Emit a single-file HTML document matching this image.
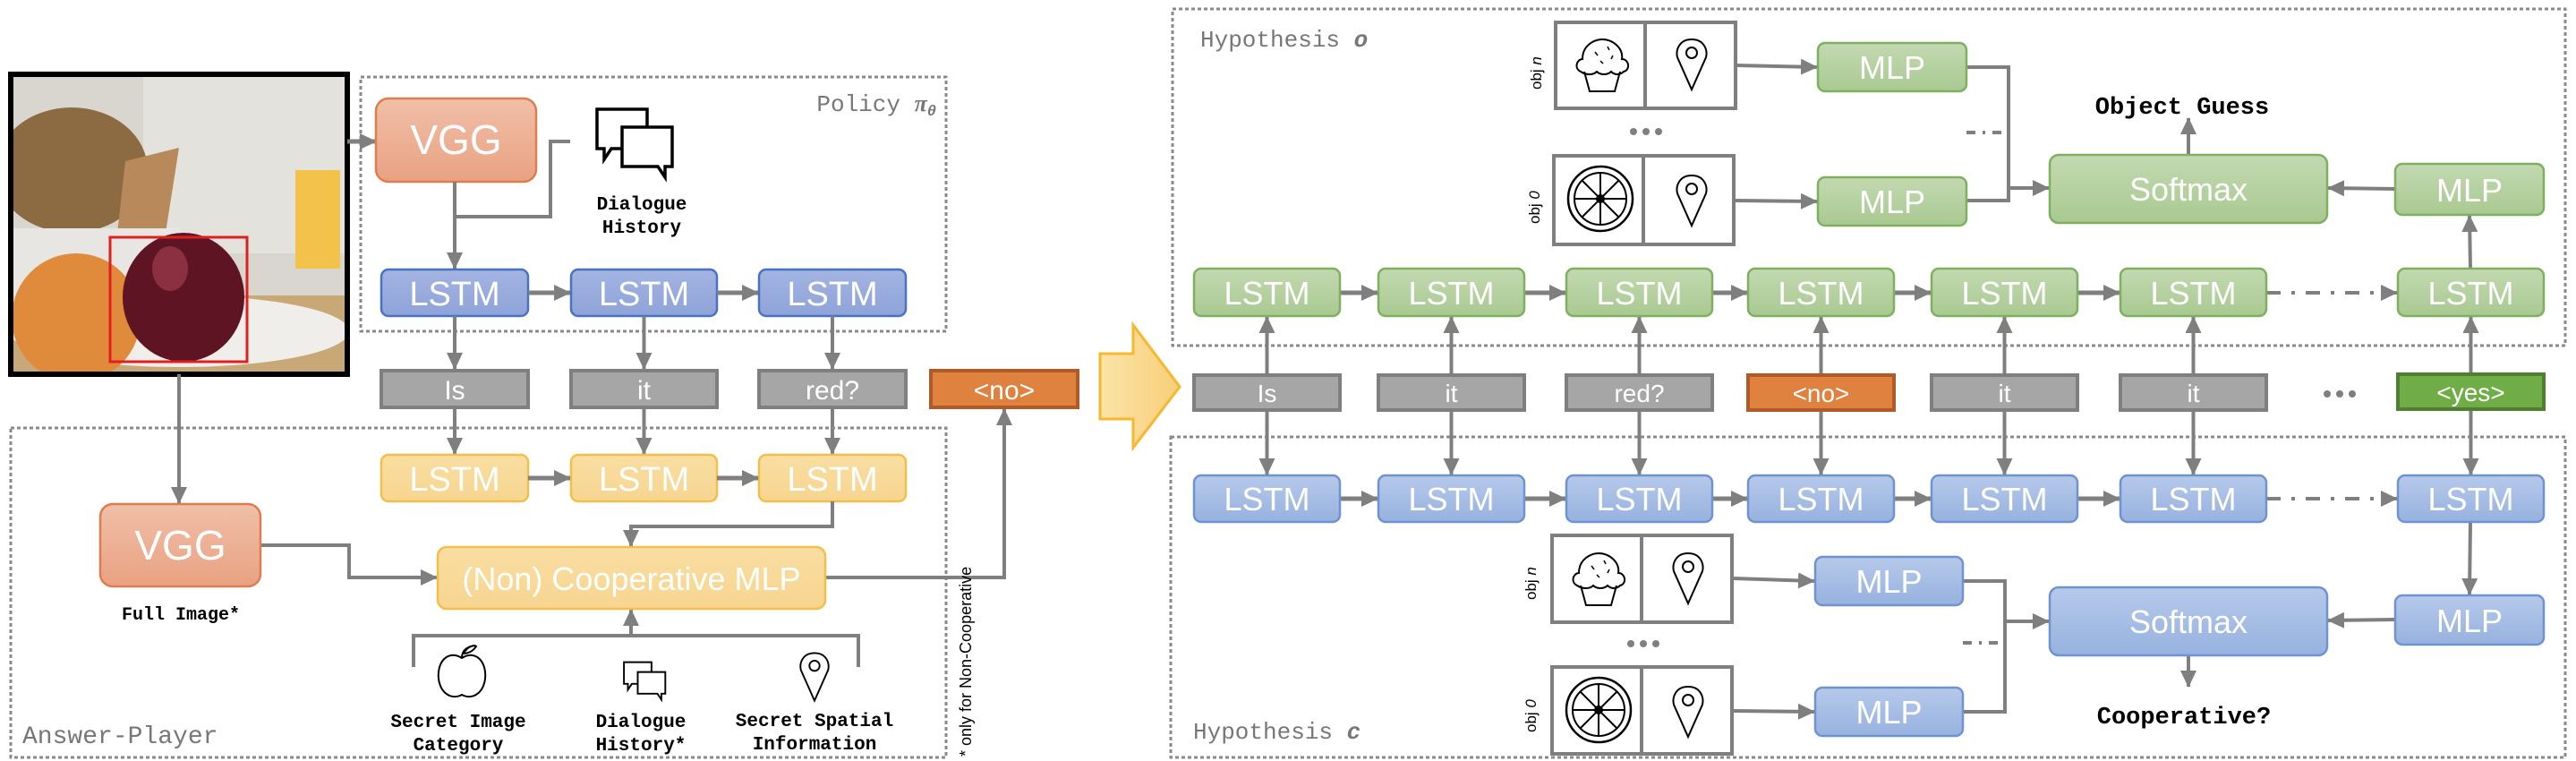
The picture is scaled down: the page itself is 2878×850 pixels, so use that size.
<!DOCTYPE html>
<html><head><meta charset="utf-8"><style>
html,body{margin:0;padding:0;background:#fff;}
svg{display:block}
.mono{font-family:"Liberation Mono",monospace;}
.sans{font-family:"Liberation Sans",sans-serif;}
</style></head><body>
<svg width="2878" height="850" viewBox="0 0 2878 850" xmlns="http://www.w3.org/2000/svg">
<defs>
<marker id="ah" markerUnits="userSpaceOnUse" markerWidth="20" markerHeight="20" refX="18" refY="10" orient="auto">
<path d="M0,1 L19,10 L0,19 z" fill="#7f7f7f"/></marker>
<linearGradient id="gO" x1="0" y1="0" x2="0" y2="1"><stop offset="0" stop-color="#f0bfa8"/><stop offset="1" stop-color="#e9a282"/></linearGradient>
<linearGradient id="gB" x1="0" y1="0" x2="0" y2="1"><stop offset="0" stop-color="#a3b4e2"/><stop offset="1" stop-color="#8ea3d8"/></linearGradient>
<linearGradient id="gY" x1="0" y1="0" x2="0" y2="1"><stop offset="0" stop-color="#f9dea2"/><stop offset="1" stop-color="#f7d590"/></linearGradient>
<linearGradient id="gG" x1="0" y1="0" x2="0" y2="1"><stop offset="0" stop-color="#c3d9b1"/><stop offset="1" stop-color="#a9c991"/></linearGradient>
<linearGradient id="gL" x1="0" y1="0" x2="0" y2="1"><stop offset="0" stop-color="#b6c9ea"/><stop offset="1" stop-color="#97b2df"/></linearGradient>
<linearGradient id="gA" x1="0" y1="0" x2="1" y2="0"><stop offset="0" stop-color="#fbe3a8"/><stop offset="1" stop-color="#f8cf78"/></linearGradient>
<clipPath id="ph"><rect x="12" y="83" width="376" height="335"/></clipPath>
<g id="pin"><path d="M0,-28 C-14,-28 -18,-16 -16,-8 L0,28 L16,-8 C18,-16 14,-28 0,-28 Z" fill="none" stroke="#000" stroke-width="2"/><circle cx="0" cy="-13" r="6" fill="none" stroke="#000" stroke-width="2"/></g>
<g id="cup"><path d="M-20,8 L-14,30 L14,30 L20,8" fill="none" stroke="#000" stroke-width="2"/><path d="M-24,8 C-32,4 -28,-6 -22,-6 C-22,-22 -8,-28 0,-28 C12,-28 24,-18 22,-6 C30,-6 32,6 24,8 C20,12 14,12 10,8 C6,12 -2,12 -6,8 C-10,12 -18,12 -24,8 Z" fill="none" stroke="#000" stroke-width="2"/><path d="M-8,-14 l3,4 M6,-20 l2,4 M12,-10 l-2,4 M-2,-4 l3,3" stroke="#000" stroke-width="1.5"/></g>
<g id="orng"><circle r="36" fill="none" stroke="#000" stroke-width="2.5"/><circle r="29" fill="none" stroke="#000" stroke-width="2"/><circle r="4" fill="none" stroke="#000" stroke-width="2"/><path d="M0,-29V29M-29,0H29M-20.5,-20.5L20.5,20.5M-20.5,20.5L20.5,-20.5" stroke="#000" stroke-width="2"/></g>
<g id="dlg"><path d="M-38,-28 h56 v44 h-40 l-8,12 v-12 h-8 z" fill="#fff" stroke="#000" stroke-width="3.5"/><path d="M-10,-8 h56 v44 h-8 v12 l-8,-12 h-40 z" fill="#fff" stroke="#000" stroke-width="3.5"/></g>
</defs>

<!-- ===== LEFT ===== -->
<!-- photo -->
<g clip-path="url(#ph)">
<rect x="12" y="83" width="376" height="335" fill="#d9d6d0"/>
<rect x="160" y="83" width="228" height="200" fill="#e4e2dc"/>
<rect x="12" y="330" width="376" height="90" fill="#c9a878"/>
<ellipse cx="80" cy="190" rx="85" ry="70" fill="#8c6a42"/>
<polygon points="140,180 200,165 185,260 130,270" fill="#b8895a"/>
<rect x="330" y="190" width="50" height="110" fill="#f2c24a"/>
<rect x="12" y="255" width="190" height="100" fill="#e8e6e2"/>
<ellipse cx="200" cy="370" rx="190" ry="40" fill="#f0eeea"/>
<circle cx="85" cy="355" r="72" fill="#e08a3c"/>
<ellipse cx="205" cy="332" rx="68" ry="72" fill="#5e1422"/>
<ellipse cx="190" cy="300" rx="20" ry="25" fill="#8a3040"/>
</g>
<rect x="12" y="83" width="376" height="335" fill="none" stroke="#000" stroke-width="6"/>
<rect x="123" y="265" width="153" height="139" fill="none" stroke="#e02020" stroke-width="3"/>

<!-- policy box -->
<rect x="403" y="86" width="654" height="284" fill="none" stroke="#8a8a8a" stroke-width="3" stroke-dasharray="4 3"/>
<text x="1046" y="124" text-anchor="end" class="mono" font-size="26" fill="#777">Policy <tspan font-style="italic" font-weight="bold" font-family="Liberation Serif, serif">π</tspan><tspan font-size="17" dy="5" font-style="italic" font-weight="bold">θ</tspan></text>

<line x1="388" y1="158" x2="420" y2="158" stroke="#7f7f7f" stroke-width="5" marker-end="url(#ah)"/>
<rect x="420" y="110" width="179" height="93" rx="14" fill="url(#gO)" stroke="#e07c50" stroke-width="2.5"/>
<text x="509.5" y="172" text-anchor="middle" class="sans" font-size="46" fill="#fff">VGG</text>

<use href="#dlg" x="705" y="150"/>
<text x="717" y="234" text-anchor="middle" class="mono" font-weight="bold" font-size="21">Dialogue</text>
<text x="717" y="260" text-anchor="middle" class="mono" font-weight="bold" font-size="21">History</text>
<polyline points="637,158 615,158 615,242 508,242" fill="none" stroke="#7f7f7f" stroke-width="4"/>
<line x1="508" y1="203" x2="508" y2="300" stroke="#7f7f7f" stroke-width="4" marker-end="url(#ah)"/>

<!-- policy LSTMs -->
<g class="sans" font-size="38" fill="#fff" text-anchor="middle">
<rect x="426" y="301" width="164" height="52" rx="8" fill="url(#gB)" stroke="#4a72c4" stroke-width="2.5"/><text x="508" y="341">LSTM</text>
<rect x="638" y="301" width="163" height="52" rx="8" fill="url(#gB)" stroke="#4a72c4" stroke-width="2.5"/><text x="719.5" y="341">LSTM</text>
<rect x="848" y="301" width="164" height="52" rx="8" fill="url(#gB)" stroke="#4a72c4" stroke-width="2.5"/><text x="930" y="341">LSTM</text>
</g>
<g stroke="#7f7f7f" stroke-width="5">
<line x1="590" y1="327" x2="637" y2="327" marker-end="url(#ah)"/>
<line x1="801" y1="327" x2="847" y2="327" marker-end="url(#ah)"/>
<line x1="508" y1="353" x2="508" y2="412" stroke-width="4" marker-end="url(#ah)"/>
<line x1="719.5" y1="353" x2="719.5" y2="412" stroke-width="4" marker-end="url(#ah)"/>
<line x1="930" y1="353" x2="930" y2="412" stroke-width="4" marker-end="url(#ah)"/>
<line x1="508" y1="456" x2="508" y2="507" stroke-width="4" marker-end="url(#ah)"/>
<line x1="719.5" y1="456" x2="719.5" y2="507" stroke-width="4" marker-end="url(#ah)"/>
<line x1="930" y1="456" x2="930" y2="507" stroke-width="4" marker-end="url(#ah)"/>
</g>
<!-- words -->
<g class="sans" font-size="30" fill="#fff" text-anchor="middle">
<rect x="426" y="414" width="164" height="41" fill="#a6a6a6" stroke="#7f7f7f" stroke-width="4"/><text x="508" y="446">Is</text>
<rect x="638" y="414" width="163" height="41" fill="#a6a6a6" stroke="#7f7f7f" stroke-width="4"/><text x="719.5" y="446">it</text>
<rect x="848" y="414" width="164" height="41" fill="#a6a6a6" stroke="#7f7f7f" stroke-width="4"/><text x="930" y="446">red?</text>
<rect x="1040" y="414" width="164" height="41" fill="#e0823f" stroke="#b05a28" stroke-width="4"/><text x="1122" y="446">&lt;no&gt;</text>
</g>

<!-- big arrow -->
<polygon points="1229,395 1266,395 1266,363 1318,432 1266,500 1266,468 1229,468" fill="url(#gA)" stroke="#f5b82e" stroke-width="3"/>

<!-- answer player box -->
<rect x="12" y="478" width="1045" height="368" fill="none" stroke="#8a8a8a" stroke-width="3" stroke-dasharray="4 3"/>
<text x="25" y="830" class="mono" font-size="28" fill="#777">Answer-Player</text>

<g class="sans" font-size="38" fill="#fff" text-anchor="middle">
<rect x="426" y="508" width="164" height="52" rx="8" fill="url(#gY)" stroke="#f2c04a" stroke-width="2.5"/><text x="508" y="548">LSTM</text>
<rect x="638" y="508" width="163" height="52" rx="8" fill="url(#gY)" stroke="#f2c04a" stroke-width="2.5"/><text x="719.5" y="548">LSTM</text>
<rect x="848" y="508" width="164" height="52" rx="8" fill="url(#gY)" stroke="#f2c04a" stroke-width="2.5"/><text x="930" y="548">LSTM</text>
</g>
<g stroke="#7f7f7f" stroke-width="5" fill="none">
<line x1="590" y1="534" x2="637" y2="534" marker-end="url(#ah)"/>
<line x1="801" y1="534" x2="847" y2="534" marker-end="url(#ah)"/>
<polyline points="930,560 930,588 705,588 705,610" stroke-width="4" marker-end="url(#ah)"/>
<line x1="200" y1="418" x2="200" y2="562" stroke-width="4" marker-end="url(#ah)"/>
<polyline points="291,609 390,609 390,645 488,645" stroke-width="4" marker-end="url(#ah)"/>
<polyline points="922,645 1122,645 1122,457" stroke-width="4" marker-end="url(#ah)"/>
<polyline points="462,745 462,710 959,710 959,745" stroke-width="4"/>
<line x1="705" y1="710" x2="705" y2="681" stroke-width="4" marker-end="url(#ah)"/>
</g>
<rect x="112" y="563" width="179" height="92" rx="14" fill="url(#gO)" stroke="#e07c50" stroke-width="2.5"/>
<text x="201.5" y="625" text-anchor="middle" class="sans" font-size="46" fill="#fff">VGG</text>
<text x="202" y="692" text-anchor="middle" class="mono" font-weight="bold" font-size="20">Full Image*</text>
<rect x="489" y="611" width="433" height="69" rx="10" fill="url(#gY)" stroke="#f2c04a" stroke-width="2.5"/>
<text x="705.5" y="659" text-anchor="middle" class="sans" font-size="36" fill="#fff">(Non) Cooperative MLP</text>

<!-- icons -->
<path d="M516,735 C500,725 488,740 490,758 C492,775 505,782 516,776 C527,782 540,775 542,758 C544,740 532,725 516,735 Z" fill="none" stroke="#000" stroke-width="2"/>
<path d="M516,735 C516,728 520,724 526,722 M518,730 C522,722 530,720 532,722 C528,728 522,730 518,730" fill="none" stroke="#000" stroke-width="2"/>
<g transform="translate(718,755) scale(0.55)"><use href="#dlg"/></g>
<g transform="translate(910,756) scale(0.95)"><use href="#pin"/></g>
<g class="mono" font-weight="bold" font-size="21" text-anchor="middle">
<text x="512" y="812">Secret Image</text><text x="512" y="838">Category</text>
<text x="716" y="812">Dialogue</text><text x="716" y="838">History*</text>
<text x="910" y="811">Secret Spatial</text><text x="910" y="837">Information</text>
</g>
<text transform="translate(1085,845) rotate(-90)" class="sans" font-size="18" fill="#000">* only for Non-Cooperative</text>

<!-- ===== RIGHT ===== -->
<rect x="1310" y="10" width="1556" height="376" fill="none" stroke="#8a8a8a" stroke-width="3" stroke-dasharray="4 3"/>
<text x="1341" y="52" class="mono" font-size="26" fill="#777">Hypothesis <tspan font-style="italic" font-weight="bold">o</tspan></text>
<rect x="1308" y="488" width="1558" height="358" fill="none" stroke="#8a8a8a" stroke-width="3" stroke-dasharray="4 3"/>
<text x="1333" y="825" class="mono" font-size="26" fill="#777">Hypothesis <tspan font-style="italic" font-weight="bold">c</tspan></text>

<!-- obj boxes top -->
<g fill="none" stroke="#7f7f7f" stroke-width="4">
<rect x="1738" y="25" width="201" height="96"/><line x1="1838" y1="25" x2="1838" y2="121"/>
<rect x="1736" y="174" width="201" height="99"/><line x1="1836" y1="174" x2="1836" y2="273"/>
<rect x="1734" y="598" width="201" height="97"/><line x1="1834" y1="598" x2="1834" y2="695"/>
<rect x="1734" y="745" width="201" height="97"/><line x1="1834" y1="745" x2="1834" y2="842"/>
</g>
<use href="#cup" x="1790" y="72"/><use href="#pin" x="1890" y="72"/>
<use href="#orng" x="1788" y="222"/><use href="#pin" x="1890" y="224"/>
<use href="#cup" x="1786" y="646"/><use href="#pin" x="1886" y="646"/>
<use href="#orng" x="1786" y="793"/><use href="#pin" x="1886" y="795"/>
<g class="sans" font-size="17" fill="#000">
<text transform="translate(1722,100) rotate(-90)">obj <tspan font-style="italic">n</tspan></text>
<text transform="translate(1720,250) rotate(-90)">obj <tspan font-style="italic">0</tspan></text>
<text transform="translate(1716,670) rotate(-90)">obj <tspan font-style="italic">n</tspan></text>
<text transform="translate(1716,818) rotate(-90)">obj <tspan font-style="italic">0</tspan></text>
</g>
<g fill="#7f7f7f"><circle cx="1825" cy="147" r="4"/><circle cx="1839" cy="147" r="4"/><circle cx="1853" cy="147" r="4"/>
<circle cx="1822" cy="719" r="4"/><circle cx="1836" cy="719" r="4"/><circle cx="1850" cy="719" r="4"/>
<circle cx="2600" cy="440" r="4"/><circle cx="2614" cy="440" r="4"/><circle cx="2628" cy="440" r="4"/></g>

<g stroke="#7f7f7f" stroke-width="4" fill="none">
<line x1="1940" y1="73" x2="2030" y2="75" marker-end="url(#ah)"/>
<line x1="1938" y1="224" x2="2030" y2="225" marker-end="url(#ah)"/>
<polyline points="2197,75 2244,75 2244,224 2197,224"/>
<line x1="2244" y1="210" x2="2289" y2="210" marker-end="url(#ah)"/>
<line x1="2197" y1="148" x2="2240" y2="148" stroke-dasharray="10 8 3 8"/>
<line x1="2445" y1="173" x2="2445" y2="132" marker-end="url(#ah)"/>
<line x1="2676" y1="211" x2="2601" y2="210" marker-end="url(#ah)"/>
<line x1="2760" y1="300" x2="2759" y2="241" marker-end="url(#ah)"/>
<line x1="1936" y1="646" x2="2027" y2="649" marker-end="url(#ah)"/>
<line x1="1936" y1="794" x2="2027" y2="795" marker-end="url(#ah)"/>
<polyline points="2193,649 2240,649 2240,795 2193,795"/>
<line x1="2240" y1="694" x2="2289" y2="694" marker-end="url(#ah)"/>
<line x1="2193" y1="718" x2="2236" y2="718" stroke-dasharray="10 8 3 8"/>
<line x1="2445" y1="732" x2="2445" y2="767" marker-end="url(#ah)"/>
<line x1="2676" y1="692" x2="2601" y2="693" marker-end="url(#ah)"/>
<line x1="2760" y1="583" x2="2759" y2="664" marker-end="url(#ah)"/>
</g>

<g class="sans" font-size="36" fill="#fff" text-anchor="middle">
<rect x="2031" y="48" width="166" height="54" rx="8" fill="url(#gG)" stroke="#7fb060" stroke-width="2.5"/><text x="2114" y="88">MLP</text>
<rect x="2031" y="198" width="166" height="54" rx="8" fill="url(#gG)" stroke="#7fb060" stroke-width="2.5"/><text x="2114" y="238">MLP</text>
<rect x="2290" y="173" width="310" height="76" rx="10" fill="url(#gG)" stroke="#7fb060" stroke-width="2.5"/><text x="2445" y="224">Softmax</text>
<rect x="2676" y="183" width="166" height="57" rx="8" fill="url(#gG)" stroke="#7fb060" stroke-width="2.5"/><text x="2759" y="225">MLP</text>
<rect x="2028" y="622" width="165" height="54" rx="8" fill="url(#gL)" stroke="#6f93d1" stroke-width="2.5"/><text x="2110.5" y="662">MLP</text>
<rect x="2028" y="768" width="165" height="54" rx="8" fill="url(#gL)" stroke="#6f93d1" stroke-width="2.5"/><text x="2110.5" y="808">MLP</text>
<rect x="2290" y="656" width="310" height="76" rx="10" fill="url(#gL)" stroke="#6f93d1" stroke-width="2.5"/><text x="2445" y="707">Softmax</text>
<rect x="2676" y="665" width="166" height="55" rx="8" fill="url(#gL)" stroke="#6f93d1" stroke-width="2.5"/><text x="2759" y="706">MLP</text>
</g>
<text x="2438" y="127" text-anchor="middle" class="mono" font-weight="bold" font-size="27">Object Guess</text>
<text x="2440" y="808" text-anchor="middle" class="mono" font-weight="bold" font-size="27">Cooperative?</text>

<!-- verticals -->
<g stroke="#7f7f7f" stroke-width="4">
<line x1="1415.5" y1="418" x2="1415.5" y2="354" marker-end="url(#ah)"/><line x1="1415.5" y1="459" x2="1415.5" y2="530" marker-end="url(#ah)"/>
<line x1="1621.5" y1="418" x2="1621.5" y2="354" marker-end="url(#ah)"/><line x1="1621.5" y1="459" x2="1621.5" y2="530" marker-end="url(#ah)"/>
<line x1="1831.5" y1="418" x2="1831.5" y2="354" marker-end="url(#ah)"/><line x1="1831.5" y1="459" x2="1831.5" y2="530" marker-end="url(#ah)"/>
<line x1="2034.5" y1="418" x2="2034.5" y2="354" marker-end="url(#ah)"/><line x1="2034.5" y1="459" x2="2034.5" y2="530" marker-end="url(#ah)"/>
<line x1="2239.5" y1="418" x2="2239.5" y2="354" marker-end="url(#ah)"/><line x1="2239.5" y1="459" x2="2239.5" y2="530" marker-end="url(#ah)"/>
<line x1="2450.5" y1="418" x2="2450.5" y2="354" marker-end="url(#ah)"/><line x1="2450.5" y1="459" x2="2450.5" y2="530" marker-end="url(#ah)"/>
<line x1="2760.5" y1="418" x2="2760.5" y2="354" marker-end="url(#ah)"/><line x1="2760.5" y1="459" x2="2760.5" y2="530" marker-end="url(#ah)"/>
</g>
<g stroke="#7f7f7f" stroke-width="5">
<line x1="1497" y1="327" x2="1539" y2="327" marker-end="url(#ah)"/>
<line x1="1703" y1="327" x2="1749" y2="327" marker-end="url(#ah)"/>
<line x1="1913" y1="327" x2="1952" y2="327" marker-end="url(#ah)"/>
<line x1="2116" y1="327" x2="2157" y2="327" marker-end="url(#ah)"/>
<line x1="2321" y1="327" x2="2368" y2="327" marker-end="url(#ah)"/>
<line x1="2532" y1="327" x2="2678" y2="327" stroke-width="4" stroke-dasharray="16 12 4 12" marker-end="url(#ah)"/>
<line x1="1497" y1="557" x2="1539" y2="557" marker-end="url(#ah)"/>
<line x1="1703" y1="557" x2="1749" y2="557" marker-end="url(#ah)"/>
<line x1="1913" y1="557" x2="1952" y2="557" marker-end="url(#ah)"/>
<line x1="2116" y1="557" x2="2157" y2="557" marker-end="url(#ah)"/>
<line x1="2321" y1="557" x2="2368" y2="557" marker-end="url(#ah)"/>
<line x1="2532" y1="557" x2="2678" y2="557" stroke-width="4" stroke-dasharray="16 12 4 12" marker-end="url(#ah)"/>
</g>

<g class="sans" font-size="36" fill="#fff" text-anchor="middle">
<rect x="1334" y="300" width="163" height="53" rx="8" fill="url(#gG)" stroke="#7fb060" stroke-width="2.5"/><text x="1415.5" y="340">LSTM</text>
<rect x="1540" y="300" width="163" height="53" rx="8" fill="url(#gG)" stroke="#7fb060" stroke-width="2.5"/><text x="1621.5" y="340">LSTM</text>
<rect x="1750" y="300" width="163" height="53" rx="8" fill="url(#gG)" stroke="#7fb060" stroke-width="2.5"/><text x="1831.5" y="340">LSTM</text>
<rect x="1953" y="300" width="163" height="53" rx="8" fill="url(#gG)" stroke="#7fb060" stroke-width="2.5"/><text x="2034.5" y="340">LSTM</text>
<rect x="2158" y="300" width="163" height="53" rx="8" fill="url(#gG)" stroke="#7fb060" stroke-width="2.5"/><text x="2239.5" y="340">LSTM</text>
<rect x="2369" y="300" width="163" height="53" rx="8" fill="url(#gG)" stroke="#7fb060" stroke-width="2.5"/><text x="2450.5" y="340">LSTM</text>
<rect x="2679" y="300" width="163" height="53" rx="8" fill="url(#gG)" stroke="#7fb060" stroke-width="2.5"/><text x="2760.5" y="340">LSTM</text>
<rect x="1334" y="531" width="163" height="52" rx="8" fill="url(#gL)" stroke="#6f93d1" stroke-width="2.5"/><text x="1415.5" y="570">LSTM</text>
<rect x="1540" y="531" width="163" height="52" rx="8" fill="url(#gL)" stroke="#6f93d1" stroke-width="2.5"/><text x="1621.5" y="570">LSTM</text>
<rect x="1750" y="531" width="163" height="52" rx="8" fill="url(#gL)" stroke="#6f93d1" stroke-width="2.5"/><text x="1831.5" y="570">LSTM</text>
<rect x="1953" y="531" width="163" height="52" rx="8" fill="url(#gL)" stroke="#6f93d1" stroke-width="2.5"/><text x="2034.5" y="570">LSTM</text>
<rect x="2158" y="531" width="163" height="52" rx="8" fill="url(#gL)" stroke="#6f93d1" stroke-width="2.5"/><text x="2239.5" y="570">LSTM</text>
<rect x="2369" y="531" width="163" height="52" rx="8" fill="url(#gL)" stroke="#6f93d1" stroke-width="2.5"/><text x="2450.5" y="570">LSTM</text>
<rect x="2679" y="531" width="163" height="52" rx="8" fill="url(#gL)" stroke="#6f93d1" stroke-width="2.5"/><text x="2760.5" y="570">LSTM</text>
</g>
<g class="sans" font-size="28" fill="#fff" text-anchor="middle">
<rect x="1334" y="419" width="163" height="39" fill="#a6a6a6" stroke="#7f7f7f" stroke-width="4"/><text x="1415.5" y="449">Is</text>
<rect x="1540" y="419" width="163" height="39" fill="#a6a6a6" stroke="#7f7f7f" stroke-width="4"/><text x="1621.5" y="449">it</text>
<rect x="1750" y="419" width="163" height="39" fill="#a6a6a6" stroke="#7f7f7f" stroke-width="4"/><text x="1831.5" y="449">red?</text>
<rect x="1953" y="419" width="163" height="39" fill="#e0823f" stroke="#b05a28" stroke-width="4"/><text x="2034.5" y="449">&lt;no&gt;</text>
<rect x="2158" y="419" width="163" height="39" fill="#a6a6a6" stroke="#7f7f7f" stroke-width="4"/><text x="2239.5" y="449">it</text>
<rect x="2369" y="419" width="163" height="39" fill="#a6a6a6" stroke="#7f7f7f" stroke-width="4"/><text x="2450.5" y="449">it</text>
<rect x="2679" y="418" width="163" height="39" fill="#70ad47" stroke="#507e32" stroke-width="4"/><text x="2760.5" y="448">&lt;yes&gt;</text>
</g>
</svg>
</body></html>
